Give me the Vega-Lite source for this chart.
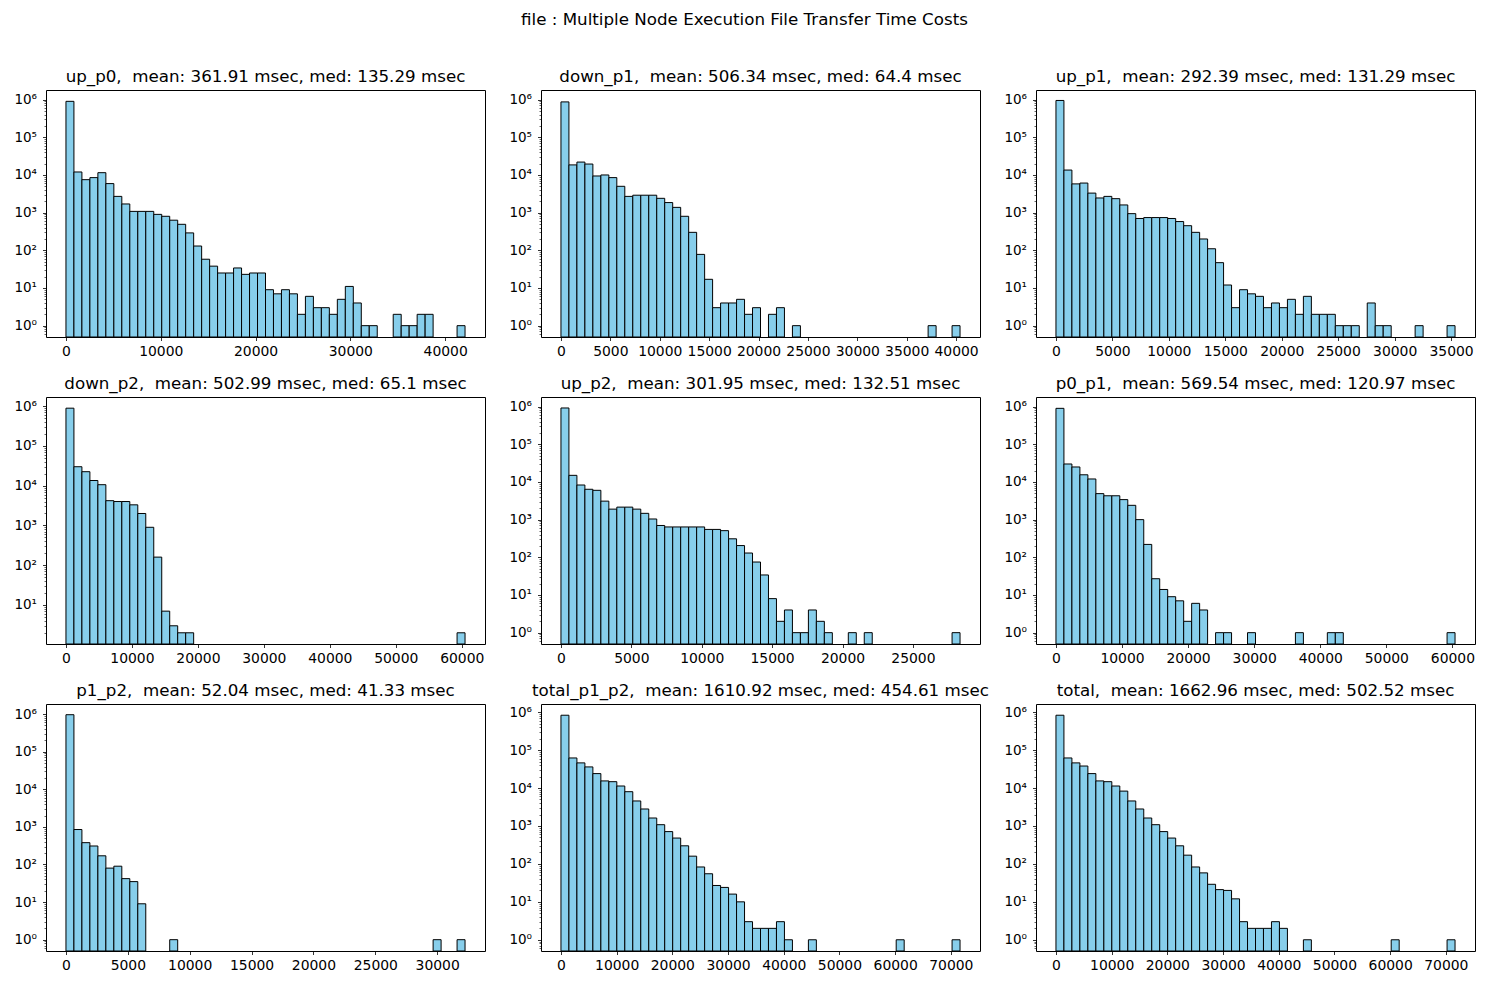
{
  "$schema": "https://vega.github.io/schema/vega-lite/v6.json",
  "background": "white",
  "padding": {"left": 13, "top": 11, "right": 10, "bottom": 5},
  "title": {"text": "file : Multiple Node Execution File Transfer Time Costs", "fontSize": 16.7, "fontWeight": "normal", "font": "DejaVu Sans", "color": "#000000", "anchor": "middle", "offset": 40},
  "bounds": "flush",
  "columns": 3,
  "spacing": {"row": 60, "column": 56},
  "datasets": {
    "hist": [
      {"panel": "up_p0", "start": 0, "end": 842, "count": 900000},
      {"panel": "up_p0", "start": 842, "end": 1684, "count": 12000},
      {"panel": "up_p0", "start": 1684, "end": 2526, "count": 7500},
      {"panel": "up_p0", "start": 2526, "end": 3368, "count": 8500},
      {"panel": "up_p0", "start": 3368, "end": 4210, "count": 11500},
      {"panel": "up_p0", "start": 4210, "end": 5052, "count": 5900},
      {"panel": "up_p0", "start": 5052, "end": 5894, "count": 2700},
      {"panel": "up_p0", "start": 5894, "end": 6736, "count": 1700},
      {"panel": "up_p0", "start": 6736, "end": 7578, "count": 1080},
      {"panel": "up_p0", "start": 7578, "end": 8420, "count": 1080},
      {"panel": "up_p0", "start": 8420, "end": 9262, "count": 1080},
      {"panel": "up_p0", "start": 9262, "end": 10104, "count": 900},
      {"panel": "up_p0", "start": 10104, "end": 10946, "count": 800},
      {"panel": "up_p0", "start": 10946, "end": 11788, "count": 630},
      {"panel": "up_p0", "start": 11788, "end": 12630, "count": 490},
      {"panel": "up_p0", "start": 12630, "end": 13472, "count": 290},
      {"panel": "up_p0", "start": 13472, "end": 14314, "count": 130},
      {"panel": "up_p0", "start": 14314, "end": 15156, "count": 58},
      {"panel": "up_p0", "start": 15156, "end": 15998, "count": 38},
      {"panel": "up_p0", "start": 15998, "end": 16840, "count": 25},
      {"panel": "up_p0", "start": 16840, "end": 17682, "count": 25},
      {"panel": "up_p0", "start": 17682, "end": 18524, "count": 34},
      {"panel": "up_p0", "start": 18524, "end": 19366, "count": 23},
      {"panel": "up_p0", "start": 19366, "end": 20208, "count": 25},
      {"panel": "up_p0", "start": 20208, "end": 21050, "count": 25},
      {"panel": "up_p0", "start": 21050, "end": 21892, "count": 9},
      {"panel": "up_p0", "start": 21892, "end": 22734, "count": 7},
      {"panel": "up_p0", "start": 22734, "end": 23576, "count": 9},
      {"panel": "up_p0", "start": 23576, "end": 24418, "count": 7},
      {"panel": "up_p0", "start": 24418, "end": 25260, "count": 2},
      {"panel": "up_p0", "start": 25260, "end": 26102, "count": 6},
      {"panel": "up_p0", "start": 26102, "end": 26944, "count": 3},
      {"panel": "up_p0", "start": 26944, "end": 27786, "count": 3},
      {"panel": "up_p0", "start": 27786, "end": 28628, "count": 2},
      {"panel": "up_p0", "start": 28628, "end": 29470, "count": 5},
      {"panel": "up_p0", "start": 29470, "end": 30312, "count": 11},
      {"panel": "up_p0", "start": 30312, "end": 31154, "count": 4},
      {"panel": "up_p0", "start": 31154, "end": 31996, "count": 1},
      {"panel": "up_p0", "start": 31996, "end": 32838, "count": 1},
      {"panel": "up_p0", "start": 34522, "end": 35364, "count": 2},
      {"panel": "up_p0", "start": 35364, "end": 36206, "count": 1},
      {"panel": "up_p0", "start": 36206, "end": 37048, "count": 1},
      {"panel": "up_p0", "start": 37048, "end": 37890, "count": 2},
      {"panel": "up_p0", "start": 37890, "end": 38732, "count": 2},
      {"panel": "up_p0", "start": 41258, "end": 42100, "count": 1},

      {"panel": "down_p1", "start": 0, "end": 808, "count": 870000},
      {"panel": "down_p1", "start": 808, "end": 1616, "count": 18500},
      {"panel": "down_p1", "start": 1616, "end": 2424, "count": 22000},
      {"panel": "down_p1", "start": 2424, "end": 3232, "count": 19500},
      {"panel": "down_p1", "start": 3232, "end": 4040, "count": 9400},
      {"panel": "down_p1", "start": 4040, "end": 4848, "count": 10000},
      {"panel": "down_p1", "start": 4848, "end": 5656, "count": 8500},
      {"panel": "down_p1", "start": 5656, "end": 6464, "count": 5000},
      {"panel": "down_p1", "start": 6464, "end": 7272, "count": 2700},
      {"panel": "down_p1", "start": 7272, "end": 8080, "count": 2900},
      {"panel": "down_p1", "start": 8080, "end": 8888, "count": 2900},
      {"panel": "down_p1", "start": 8888, "end": 9696, "count": 2900},
      {"panel": "down_p1", "start": 9696, "end": 10504, "count": 2400},
      {"panel": "down_p1", "start": 10504, "end": 11312, "count": 1850},
      {"panel": "down_p1", "start": 11312, "end": 12120, "count": 1380},
      {"panel": "down_p1", "start": 12120, "end": 12928, "count": 800},
      {"panel": "down_p1", "start": 12928, "end": 13736, "count": 300},
      {"panel": "down_p1", "start": 13736, "end": 14544, "count": 78},
      {"panel": "down_p1", "start": 14544, "end": 15352, "count": 17},
      {"panel": "down_p1", "start": 15352, "end": 16160, "count": 3},
      {"panel": "down_p1", "start": 16160, "end": 16968, "count": 4},
      {"panel": "down_p1", "start": 16968, "end": 17776, "count": 4},
      {"panel": "down_p1", "start": 17776, "end": 18584, "count": 5},
      {"panel": "down_p1", "start": 18584, "end": 19392, "count": 2},
      {"panel": "down_p1", "start": 19392, "end": 20200, "count": 3},
      {"panel": "down_p1", "start": 21008, "end": 21816, "count": 2},
      {"panel": "down_p1", "start": 21816, "end": 22624, "count": 3},
      {"panel": "down_p1", "start": 23432, "end": 24240, "count": 1},
      {"panel": "down_p1", "start": 37168, "end": 37976, "count": 1},
      {"panel": "down_p1", "start": 39592, "end": 40400, "count": 1},

      {"panel": "up_p1", "start": 0, "end": 707, "count": 950000},
      {"panel": "up_p1", "start": 707, "end": 1414, "count": 13500},
      {"panel": "up_p1", "start": 1414, "end": 2121, "count": 5800},
      {"panel": "up_p1", "start": 2121, "end": 2828, "count": 6100},
      {"panel": "up_p1", "start": 2828, "end": 3535, "count": 3300},
      {"panel": "up_p1", "start": 3535, "end": 4242, "count": 2450},
      {"panel": "up_p1", "start": 4242, "end": 4949, "count": 2700},
      {"panel": "up_p1", "start": 4949, "end": 5656, "count": 2350},
      {"panel": "up_p1", "start": 5656, "end": 6363, "count": 1600},
      {"panel": "up_p1", "start": 6363, "end": 7070, "count": 940},
      {"panel": "up_p1", "start": 7070, "end": 7777, "count": 700},
      {"panel": "up_p1", "start": 7777, "end": 8484, "count": 740},
      {"panel": "up_p1", "start": 8484, "end": 9191, "count": 740},
      {"panel": "up_p1", "start": 9191, "end": 9898, "count": 740},
      {"panel": "up_p1", "start": 9898, "end": 10605, "count": 700},
      {"panel": "up_p1", "start": 10605, "end": 11312, "count": 580},
      {"panel": "up_p1", "start": 11312, "end": 12019, "count": 450},
      {"panel": "up_p1", "start": 12019, "end": 12726, "count": 300},
      {"panel": "up_p1", "start": 12726, "end": 13433, "count": 200},
      {"panel": "up_p1", "start": 13433, "end": 14140, "count": 110},
      {"panel": "up_p1", "start": 14140, "end": 14847, "count": 47},
      {"panel": "up_p1", "start": 14847, "end": 15554, "count": 12},
      {"panel": "up_p1", "start": 15554, "end": 16261, "count": 3},
      {"panel": "up_p1", "start": 16261, "end": 16968, "count": 9},
      {"panel": "up_p1", "start": 16968, "end": 17675, "count": 7},
      {"panel": "up_p1", "start": 17675, "end": 18382, "count": 6},
      {"panel": "up_p1", "start": 18382, "end": 19089, "count": 3},
      {"panel": "up_p1", "start": 19089, "end": 19796, "count": 4},
      {"panel": "up_p1", "start": 19796, "end": 20503, "count": 3},
      {"panel": "up_p1", "start": 20503, "end": 21210, "count": 5},
      {"panel": "up_p1", "start": 21210, "end": 21917, "count": 2},
      {"panel": "up_p1", "start": 21917, "end": 22624, "count": 6},
      {"panel": "up_p1", "start": 22624, "end": 23331, "count": 2},
      {"panel": "up_p1", "start": 23331, "end": 24038, "count": 2},
      {"panel": "up_p1", "start": 24038, "end": 24745, "count": 2},
      {"panel": "up_p1", "start": 24745, "end": 25452, "count": 1},
      {"panel": "up_p1", "start": 25452, "end": 26159, "count": 1},
      {"panel": "up_p1", "start": 26159, "end": 26866, "count": 1},
      {"panel": "up_p1", "start": 27573, "end": 28280, "count": 4},
      {"panel": "up_p1", "start": 28280, "end": 28987, "count": 1},
      {"panel": "up_p1", "start": 28987, "end": 29694, "count": 1},
      {"panel": "up_p1", "start": 31815, "end": 32522, "count": 1},
      {"panel": "up_p1", "start": 34643, "end": 35350, "count": 1},

      {"panel": "down_p2", "start": 0, "end": 1210, "count": 890000},
      {"panel": "down_p2", "start": 1210, "end": 2420, "count": 30000},
      {"panel": "down_p2", "start": 2420, "end": 3630, "count": 22500},
      {"panel": "down_p2", "start": 3630, "end": 4840, "count": 13500},
      {"panel": "down_p2", "start": 4840, "end": 6050, "count": 10600},
      {"panel": "down_p2", "start": 6050, "end": 7260, "count": 4200},
      {"panel": "down_p2", "start": 7260, "end": 8470, "count": 4000},
      {"panel": "down_p2", "start": 8470, "end": 9680, "count": 4000},
      {"panel": "down_p2", "start": 9680, "end": 10890, "count": 3300},
      {"panel": "down_p2", "start": 10890, "end": 12100, "count": 2000},
      {"panel": "down_p2", "start": 12100, "end": 13310, "count": 900},
      {"panel": "down_p2", "start": 13310, "end": 14520, "count": 160},
      {"panel": "down_p2", "start": 14520, "end": 15730, "count": 7},
      {"panel": "down_p2", "start": 15730, "end": 16940, "count": 3},
      {"panel": "down_p2", "start": 16940, "end": 18150, "count": 2},
      {"panel": "down_p2", "start": 18150, "end": 19360, "count": 2},
      {"panel": "down_p2", "start": 59290, "end": 60500, "count": 2},

      {"panel": "up_p2", "start": 0, "end": 567, "count": 920000},
      {"panel": "up_p2", "start": 567, "end": 1134, "count": 15000},
      {"panel": "up_p2", "start": 1134, "end": 1701, "count": 8300},
      {"panel": "up_p2", "start": 1701, "end": 2268, "count": 6400},
      {"panel": "up_p2", "start": 2268, "end": 2835, "count": 6000},
      {"panel": "up_p2", "start": 2835, "end": 3402, "count": 3100},
      {"panel": "up_p2", "start": 3402, "end": 3969, "count": 1900},
      {"panel": "up_p2", "start": 3969, "end": 4536, "count": 2150},
      {"panel": "up_p2", "start": 4536, "end": 5103, "count": 2150},
      {"panel": "up_p2", "start": 5103, "end": 5670, "count": 1900},
      {"panel": "up_p2", "start": 5670, "end": 6237, "count": 1470},
      {"panel": "up_p2", "start": 6237, "end": 6804, "count": 1040},
      {"panel": "up_p2", "start": 6804, "end": 7371, "count": 700},
      {"panel": "up_p2", "start": 7371, "end": 7938, "count": 640},
      {"panel": "up_p2", "start": 7938, "end": 8505, "count": 640},
      {"panel": "up_p2", "start": 8505, "end": 9072, "count": 640},
      {"panel": "up_p2", "start": 9072, "end": 9639, "count": 640},
      {"panel": "up_p2", "start": 9639, "end": 10206, "count": 640},
      {"panel": "up_p2", "start": 10206, "end": 10773, "count": 550},
      {"panel": "up_p2", "start": 10773, "end": 11340, "count": 550},
      {"panel": "up_p2", "start": 11340, "end": 11907, "count": 510},
      {"panel": "up_p2", "start": 11907, "end": 12474, "count": 310},
      {"panel": "up_p2", "start": 12474, "end": 13041, "count": 205},
      {"panel": "up_p2", "start": 13041, "end": 13608, "count": 130},
      {"panel": "up_p2", "start": 13608, "end": 14175, "count": 75},
      {"panel": "up_p2", "start": 14175, "end": 14742, "count": 34},
      {"panel": "up_p2", "start": 14742, "end": 15309, "count": 8},
      {"panel": "up_p2", "start": 15309, "end": 15876, "count": 2},
      {"panel": "up_p2", "start": 15876, "end": 16443, "count": 4},
      {"panel": "up_p2", "start": 16443, "end": 17010, "count": 1},
      {"panel": "up_p2", "start": 17010, "end": 17577, "count": 1},
      {"panel": "up_p2", "start": 17577, "end": 18144, "count": 4},
      {"panel": "up_p2", "start": 18144, "end": 18711, "count": 2},
      {"panel": "up_p2", "start": 18711, "end": 19278, "count": 1},
      {"panel": "up_p2", "start": 20412, "end": 20979, "count": 1},
      {"panel": "up_p2", "start": 21546, "end": 22113, "count": 1},
      {"panel": "up_p2", "start": 27783, "end": 28350, "count": 1},

      {"panel": "p0_p1", "start": 0, "end": 1208, "count": 900000},
      {"panel": "p0_p1", "start": 1208, "end": 2416, "count": 30000},
      {"panel": "p0_p1", "start": 2416, "end": 3624, "count": 25000},
      {"panel": "p0_p1", "start": 3624, "end": 4832, "count": 15500},
      {"panel": "p0_p1", "start": 4832, "end": 6040, "count": 12000},
      {"panel": "p0_p1", "start": 6040, "end": 7248, "count": 4900},
      {"panel": "p0_p1", "start": 7248, "end": 8456, "count": 4300},
      {"panel": "p0_p1", "start": 8456, "end": 9664, "count": 4300},
      {"panel": "p0_p1", "start": 9664, "end": 10872, "count": 3400},
      {"panel": "p0_p1", "start": 10872, "end": 12080, "count": 2400},
      {"panel": "p0_p1", "start": 12080, "end": 13288, "count": 1000},
      {"panel": "p0_p1", "start": 13288, "end": 14496, "count": 220},
      {"panel": "p0_p1", "start": 14496, "end": 15704, "count": 27},
      {"panel": "p0_p1", "start": 15704, "end": 16912, "count": 14},
      {"panel": "p0_p1", "start": 16912, "end": 18120, "count": 9},
      {"panel": "p0_p1", "start": 18120, "end": 19328, "count": 7},
      {"panel": "p0_p1", "start": 19328, "end": 20536, "count": 2},
      {"panel": "p0_p1", "start": 20536, "end": 21744, "count": 6},
      {"panel": "p0_p1", "start": 21744, "end": 22952, "count": 4},
      {"panel": "p0_p1", "start": 24160, "end": 25368, "count": 1},
      {"panel": "p0_p1", "start": 25368, "end": 26576, "count": 1},
      {"panel": "p0_p1", "start": 28992, "end": 30200, "count": 1},
      {"panel": "p0_p1", "start": 36240, "end": 37448, "count": 1},
      {"panel": "p0_p1", "start": 41072, "end": 42280, "count": 1},
      {"panel": "p0_p1", "start": 42280, "end": 43488, "count": 1},
      {"panel": "p0_p1", "start": 59192, "end": 60400, "count": 1},

      {"panel": "p1_p2", "start": 0, "end": 645, "count": 960000},
      {"panel": "p1_p2", "start": 645, "end": 1290, "count": 850},
      {"panel": "p1_p2", "start": 1290, "end": 1935, "count": 380},
      {"panel": "p1_p2", "start": 1935, "end": 2580, "count": 310},
      {"panel": "p1_p2", "start": 2580, "end": 3225, "count": 170},
      {"panel": "p1_p2", "start": 3225, "end": 3870, "count": 80},
      {"panel": "p1_p2", "start": 3870, "end": 4515, "count": 90},
      {"panel": "p1_p2", "start": 4515, "end": 5160, "count": 42},
      {"panel": "p1_p2", "start": 5160, "end": 5805, "count": 35},
      {"panel": "p1_p2", "start": 5805, "end": 6450, "count": 9},
      {"panel": "p1_p2", "start": 8385, "end": 9030, "count": 1},
      {"panel": "p1_p2", "start": 29670, "end": 30315, "count": 1},
      {"panel": "p1_p2", "start": 31605, "end": 32250, "count": 1},

      {"panel": "total_p1_p2", "start": 0, "end": 1433, "count": 830000},
      {"panel": "total_p1_p2", "start": 1433, "end": 2866, "count": 62000},
      {"panel": "total_p1_p2", "start": 2866, "end": 4299, "count": 46000},
      {"panel": "total_p1_p2", "start": 4299, "end": 5732, "count": 36000},
      {"panel": "total_p1_p2", "start": 5732, "end": 7165, "count": 24000},
      {"panel": "total_p1_p2", "start": 7165, "end": 8598, "count": 15400},
      {"panel": "total_p1_p2", "start": 8598, "end": 10031, "count": 14700},
      {"panel": "total_p1_p2", "start": 10031, "end": 11464, "count": 11300},
      {"panel": "total_p1_p2", "start": 11464, "end": 12897, "count": 8000},
      {"panel": "total_p1_p2", "start": 12897, "end": 14330, "count": 4560},
      {"panel": "total_p1_p2", "start": 14330, "end": 15763, "count": 2800},
      {"panel": "total_p1_p2", "start": 15763, "end": 17196, "count": 1620},
      {"panel": "total_p1_p2", "start": 17196, "end": 18629, "count": 1080},
      {"panel": "total_p1_p2", "start": 18629, "end": 20062, "count": 710},
      {"panel": "total_p1_p2", "start": 20062, "end": 21495, "count": 480},
      {"panel": "total_p1_p2", "start": 21495, "end": 22928, "count": 300},
      {"panel": "total_p1_p2", "start": 22928, "end": 24361, "count": 160},
      {"panel": "total_p1_p2", "start": 24361, "end": 25794, "count": 83},
      {"panel": "total_p1_p2", "start": 25794, "end": 27227, "count": 55},
      {"panel": "total_p1_p2", "start": 27227, "end": 28660, "count": 27},
      {"panel": "total_p1_p2", "start": 28660, "end": 30093, "count": 24},
      {"panel": "total_p1_p2", "start": 30093, "end": 31526, "count": 16},
      {"panel": "total_p1_p2", "start": 31526, "end": 32959, "count": 10},
      {"panel": "total_p1_p2", "start": 32959, "end": 34392, "count": 3},
      {"panel": "total_p1_p2", "start": 34392, "end": 35825, "count": 2},
      {"panel": "total_p1_p2", "start": 35825, "end": 37258, "count": 2},
      {"panel": "total_p1_p2", "start": 37258, "end": 38691, "count": 2},
      {"panel": "total_p1_p2", "start": 38691, "end": 40124, "count": 3},
      {"panel": "total_p1_p2", "start": 40124, "end": 41557, "count": 1},
      {"panel": "total_p1_p2", "start": 44423, "end": 45856, "count": 1},
      {"panel": "total_p1_p2", "start": 60186, "end": 61619, "count": 1},
      {"panel": "total_p1_p2", "start": 70217, "end": 71650, "count": 1},

      {"panel": "total", "start": 0, "end": 1433, "count": 830000},
      {"panel": "total", "start": 1433, "end": 2866, "count": 62000},
      {"panel": "total", "start": 2866, "end": 4299, "count": 46000},
      {"panel": "total", "start": 4299, "end": 5732, "count": 38000},
      {"panel": "total", "start": 5732, "end": 7165, "count": 24000},
      {"panel": "total", "start": 7165, "end": 8598, "count": 15400},
      {"panel": "total", "start": 8598, "end": 10031, "count": 14700},
      {"panel": "total", "start": 10031, "end": 11464, "count": 11300},
      {"panel": "total", "start": 11464, "end": 12897, "count": 8300},
      {"panel": "total", "start": 12897, "end": 14330, "count": 4560},
      {"panel": "total", "start": 14330, "end": 15763, "count": 2800},
      {"panel": "total", "start": 15763, "end": 17196, "count": 1620},
      {"panel": "total", "start": 17196, "end": 18629, "count": 1080},
      {"panel": "total", "start": 18629, "end": 20062, "count": 710},
      {"panel": "total", "start": 20062, "end": 21495, "count": 480},
      {"panel": "total", "start": 21495, "end": 22928, "count": 300},
      {"panel": "total", "start": 22928, "end": 24361, "count": 170},
      {"panel": "total", "start": 24361, "end": 25794, "count": 83},
      {"panel": "total", "start": 25794, "end": 27227, "count": 58},
      {"panel": "total", "start": 27227, "end": 28660, "count": 29},
      {"panel": "total", "start": 28660, "end": 30093, "count": 21},
      {"panel": "total", "start": 30093, "end": 31526, "count": 20},
      {"panel": "total", "start": 31526, "end": 32959, "count": 12},
      {"panel": "total", "start": 32959, "end": 34392, "count": 3},
      {"panel": "total", "start": 34392, "end": 35825, "count": 2},
      {"panel": "total", "start": 35825, "end": 37258, "count": 2},
      {"panel": "total", "start": 37258, "end": 38691, "count": 2},
      {"panel": "total", "start": 38691, "end": 40124, "count": 3},
      {"panel": "total", "start": 40124, "end": 41557, "count": 2},
      {"panel": "total", "start": 44423, "end": 45856, "count": 1},
      {"panel": "total", "start": 60186, "end": 61619, "count": 1},
      {"panel": "total", "start": 70217, "end": 71650, "count": 1}
    ]
  },
  "data": {"name": "hist"},
  "concat": [
    {
      "title": "up_p0,\u00a0 mean: 361.91 msec, med: 135.29 msec",
      "width": 439, "height": 247,
      "transform": [{"filter": "datum.panel == 'up_p0'"}],
      "mark": {"type": "bar", "fill": "#87ceeb", "stroke": "#000000", "strokeWidth": 1, "clip": true},
      "encoding": {
        "x": {"field": "start", "type": "quantitative", "scale": {"domain": [-2105, 44205], "nice": false, "zero": false}, "axis": {"title": null, "values": [0, 10000, 20000, 30000, 40000]}},
        "x2": {"field": "end"},
        "y": {"field": "count", "type": "quantitative", "scale": {"type": "log", "domain": [0.5, 1800000], "nice": false, "clamp": true},
          "axis": {"title": null, "labelOverlap": false,
            "values": [0.6,0.7,0.8,0.9,1,2,3,4,5,6,7,8,9,10,20,30,40,50,60,70,80,90,100,200,300,400,500,600,700,800,900,1000,2000,3000,4000,5000,6000,7000,8000,9000,10000,20000,30000,40000,50000,60000,70000,80000,90000,100000,200000,300000,400000,500000,600000,700000,800000,900000,1000000],
            "labelExpr": "indexof([1,10,100,1000,10000,100000,1000000], datum.value) >= 0 ? '10' + ['\u2070','\u00b9','\u00b2','\u00b3','\u2074','\u2075','\u2076'][round(log(datum.value) / LN10)] : ''",
            "tickSize": {"condition": {"test": "indexof([1,10,100,1000,10000,100000,1000000], datum.value) >= 0", "value": 3.5}, "value": 2},
            "tickWidth": {"condition": {"test": "indexof([1,10,100,1000,10000,100000,1000000], datum.value) >= 0", "value": 0.8}, "value": 0.6}}},
        "y2": {"datum": 0.01}
      }
    },
    {
      "title": "down_p1,\u00a0 mean: 506.34 msec, med: 64.4 msec",
      "width": 439, "height": 247,
      "transform": [{"filter": "datum.panel == 'down_p1'"}],
      "mark": {"type": "bar", "fill": "#87ceeb", "stroke": "#000000", "strokeWidth": 1, "clip": true},
      "encoding": {
        "x": {"field": "start", "type": "quantitative", "scale": {"domain": [-2020, 42420], "nice": false, "zero": false}, "axis": {"title": null, "values": [0, 5000, 10000, 15000, 20000, 25000, 30000, 35000, 40000]}},
        "x2": {"field": "end"},
        "y": {"field": "count", "type": "quantitative", "scale": {"type": "log", "domain": [0.5, 1800000], "nice": false, "clamp": true},
          "axis": {"title": null, "labelOverlap": false,
            "values": [0.6,0.7,0.8,0.9,1,2,3,4,5,6,7,8,9,10,20,30,40,50,60,70,80,90,100,200,300,400,500,600,700,800,900,1000,2000,3000,4000,5000,6000,7000,8000,9000,10000,20000,30000,40000,50000,60000,70000,80000,90000,100000,200000,300000,400000,500000,600000,700000,800000,900000,1000000],
            "labelExpr": "indexof([1,10,100,1000,10000,100000,1000000], datum.value) >= 0 ? '10' + ['\u2070','\u00b9','\u00b2','\u00b3','\u2074','\u2075','\u2076'][round(log(datum.value) / LN10)] : ''",
            "tickSize": {"condition": {"test": "indexof([1,10,100,1000,10000,100000,1000000], datum.value) >= 0", "value": 3.5}, "value": 2},
            "tickWidth": {"condition": {"test": "indexof([1,10,100,1000,10000,100000,1000000], datum.value) >= 0", "value": 0.8}, "value": 0.6}}},
        "y2": {"datum": 0.01}
      }
    },
    {
      "title": "up_p1,\u00a0 mean: 292.39 msec, med: 131.29 msec",
      "width": 439, "height": 247,
      "transform": [{"filter": "datum.panel == 'up_p1'"}],
      "mark": {"type": "bar", "fill": "#87ceeb", "stroke": "#000000", "strokeWidth": 1, "clip": true},
      "encoding": {
        "x": {"field": "start", "type": "quantitative", "scale": {"domain": [-1767.5, 37117.5], "nice": false, "zero": false}, "axis": {"title": null, "values": [0, 5000, 10000, 15000, 20000, 25000, 30000, 35000]}},
        "x2": {"field": "end"},
        "y": {"field": "count", "type": "quantitative", "scale": {"type": "log", "domain": [0.5, 1800000], "nice": false, "clamp": true},
          "axis": {"title": null, "labelOverlap": false,
            "values": [0.6,0.7,0.8,0.9,1,2,3,4,5,6,7,8,9,10,20,30,40,50,60,70,80,90,100,200,300,400,500,600,700,800,900,1000,2000,3000,4000,5000,6000,7000,8000,9000,10000,20000,30000,40000,50000,60000,70000,80000,90000,100000,200000,300000,400000,500000,600000,700000,800000,900000,1000000],
            "labelExpr": "indexof([1,10,100,1000,10000,100000,1000000], datum.value) >= 0 ? '10' + ['\u2070','\u00b9','\u00b2','\u00b3','\u2074','\u2075','\u2076'][round(log(datum.value) / LN10)] : ''",
            "tickSize": {"condition": {"test": "indexof([1,10,100,1000,10000,100000,1000000], datum.value) >= 0", "value": 3.5}, "value": 2},
            "tickWidth": {"condition": {"test": "indexof([1,10,100,1000,10000,100000,1000000], datum.value) >= 0", "value": 0.8}, "value": 0.6}}},
        "y2": {"datum": 0.01}
      }
    },
    {
      "title": "down_p2,\u00a0 mean: 502.99 msec, med: 65.1 msec",
      "width": 439, "height": 247,
      "transform": [{"filter": "datum.panel == 'down_p2'"}],
      "mark": {"type": "bar", "fill": "#87ceeb", "stroke": "#000000", "strokeWidth": 1, "clip": true},
      "encoding": {
        "x": {"field": "start", "type": "quantitative", "scale": {"domain": [-3025, 63525], "nice": false, "zero": false}, "axis": {"title": null, "values": [0, 10000, 20000, 30000, 40000, 50000, 60000]}},
        "x2": {"field": "end"},
        "y": {"field": "count", "type": "quantitative", "scale": {"type": "log", "domain": [1.045, 1700000], "nice": false, "clamp": true},
          "axis": {"title": null, "labelOverlap": false,
            "values": [2,3,4,5,6,7,8,9,10,20,30,40,50,60,70,80,90,100,200,300,400,500,600,700,800,900,1000,2000,3000,4000,5000,6000,7000,8000,9000,10000,20000,30000,40000,50000,60000,70000,80000,90000,100000,200000,300000,400000,500000,600000,700000,800000,900000,1000000],
            "labelExpr": "indexof([1,10,100,1000,10000,100000,1000000], datum.value) >= 0 ? '10' + ['\u2070','\u00b9','\u00b2','\u00b3','\u2074','\u2075','\u2076'][round(log(datum.value) / LN10)] : ''",
            "tickSize": {"condition": {"test": "indexof([1,10,100,1000,10000,100000,1000000], datum.value) >= 0", "value": 3.5}, "value": 2},
            "tickWidth": {"condition": {"test": "indexof([1,10,100,1000,10000,100000,1000000], datum.value) >= 0", "value": 0.8}, "value": 0.6}}},
        "y2": {"datum": 0.01}
      }
    },
    {
      "title": "up_p2,\u00a0 mean: 301.95 msec, med: 132.51 msec",
      "width": 439, "height": 247,
      "transform": [{"filter": "datum.panel == 'up_p2'"}],
      "mark": {"type": "bar", "fill": "#87ceeb", "stroke": "#000000", "strokeWidth": 1, "clip": true},
      "encoding": {
        "x": {"field": "start", "type": "quantitative", "scale": {"domain": [-1417.5, 29767.5], "nice": false, "zero": false}, "axis": {"title": null, "values": [0, 5000, 10000, 15000, 20000, 25000]}},
        "x2": {"field": "end"},
        "y": {"field": "count", "type": "quantitative", "scale": {"type": "log", "domain": [0.5, 1800000], "nice": false, "clamp": true},
          "axis": {"title": null, "labelOverlap": false,
            "values": [0.6,0.7,0.8,0.9,1,2,3,4,5,6,7,8,9,10,20,30,40,50,60,70,80,90,100,200,300,400,500,600,700,800,900,1000,2000,3000,4000,5000,6000,7000,8000,9000,10000,20000,30000,40000,50000,60000,70000,80000,90000,100000,200000,300000,400000,500000,600000,700000,800000,900000,1000000],
            "labelExpr": "indexof([1,10,100,1000,10000,100000,1000000], datum.value) >= 0 ? '10' + ['\u2070','\u00b9','\u00b2','\u00b3','\u2074','\u2075','\u2076'][round(log(datum.value) / LN10)] : ''",
            "tickSize": {"condition": {"test": "indexof([1,10,100,1000,10000,100000,1000000], datum.value) >= 0", "value": 3.5}, "value": 2},
            "tickWidth": {"condition": {"test": "indexof([1,10,100,1000,10000,100000,1000000], datum.value) >= 0", "value": 0.8}, "value": 0.6}}},
        "y2": {"datum": 0.01}
      }
    },
    {
      "title": "p0_p1,\u00a0 mean: 569.54 msec, med: 120.97 msec",
      "width": 439, "height": 247,
      "transform": [{"filter": "datum.panel == 'p0_p1'"}],
      "mark": {"type": "bar", "fill": "#87ceeb", "stroke": "#000000", "strokeWidth": 1, "clip": true},
      "encoding": {
        "x": {"field": "start", "type": "quantitative", "scale": {"domain": [-3020, 63420], "nice": false, "zero": false}, "axis": {"title": null, "values": [0, 10000, 20000, 30000, 40000, 50000, 60000]}},
        "x2": {"field": "end"},
        "y": {"field": "count", "type": "quantitative", "scale": {"type": "log", "domain": [0.5, 1800000], "nice": false, "clamp": true},
          "axis": {"title": null, "labelOverlap": false,
            "values": [0.6,0.7,0.8,0.9,1,2,3,4,5,6,7,8,9,10,20,30,40,50,60,70,80,90,100,200,300,400,500,600,700,800,900,1000,2000,3000,4000,5000,6000,7000,8000,9000,10000,20000,30000,40000,50000,60000,70000,80000,90000,100000,200000,300000,400000,500000,600000,700000,800000,900000,1000000],
            "labelExpr": "indexof([1,10,100,1000,10000,100000,1000000], datum.value) >= 0 ? '10' + ['\u2070','\u00b9','\u00b2','\u00b3','\u2074','\u2075','\u2076'][round(log(datum.value) / LN10)] : ''",
            "tickSize": {"condition": {"test": "indexof([1,10,100,1000,10000,100000,1000000], datum.value) >= 0", "value": 3.5}, "value": 2},
            "tickWidth": {"condition": {"test": "indexof([1,10,100,1000,10000,100000,1000000], datum.value) >= 0", "value": 0.8}, "value": 0.6}}},
        "y2": {"datum": 0.01}
      }
    },
    {
      "title": "p1_p2,\u00a0 mean: 52.04 msec, med: 41.33 msec",
      "width": 439, "height": 247,
      "transform": [{"filter": "datum.panel == 'p1_p2'"}],
      "mark": {"type": "bar", "fill": "#87ceeb", "stroke": "#000000", "strokeWidth": 1, "clip": true},
      "encoding": {
        "x": {"field": "start", "type": "quantitative", "scale": {"domain": [-1612.5, 33862.5], "nice": false, "zero": false}, "axis": {"title": null, "values": [0, 5000, 10000, 15000, 20000, 25000, 30000]}},
        "x2": {"field": "end"},
        "y": {"field": "count", "type": "quantitative", "scale": {"type": "log", "domain": [0.5, 1850000], "nice": false, "clamp": true},
          "axis": {"title": null, "labelOverlap": false,
            "values": [0.6,0.7,0.8,0.9,1,2,3,4,5,6,7,8,9,10,20,30,40,50,60,70,80,90,100,200,300,400,500,600,700,800,900,1000,2000,3000,4000,5000,6000,7000,8000,9000,10000,20000,30000,40000,50000,60000,70000,80000,90000,100000,200000,300000,400000,500000,600000,700000,800000,900000,1000000],
            "labelExpr": "indexof([1,10,100,1000,10000,100000,1000000], datum.value) >= 0 ? '10' + ['\u2070','\u00b9','\u00b2','\u00b3','\u2074','\u2075','\u2076'][round(log(datum.value) / LN10)] : ''",
            "tickSize": {"condition": {"test": "indexof([1,10,100,1000,10000,100000,1000000], datum.value) >= 0", "value": 3.5}, "value": 2},
            "tickWidth": {"condition": {"test": "indexof([1,10,100,1000,10000,100000,1000000], datum.value) >= 0", "value": 0.8}, "value": 0.6}}},
        "y2": {"datum": 0.01}
      }
    },
    {
      "title": "total_p1_p2,\u00a0 mean: 1610.92 msec, med: 454.61 msec",
      "width": 439, "height": 247,
      "transform": [{"filter": "datum.panel == 'total_p1_p2'"}],
      "mark": {"type": "bar", "fill": "#87ceeb", "stroke": "#000000", "strokeWidth": 1, "clip": true},
      "encoding": {
        "x": {"field": "start", "type": "quantitative", "scale": {"domain": [-3582.5, 75232.5], "nice": false, "zero": false}, "axis": {"title": null, "values": [0, 10000, 20000, 30000, 40000, 50000, 60000, 70000]}},
        "x2": {"field": "end"},
        "y": {"field": "count", "type": "quantitative", "scale": {"type": "log", "domain": [0.506, 1640000], "nice": false, "clamp": true},
          "axis": {"title": null, "labelOverlap": false,
            "values": [0.6,0.7,0.8,0.9,1,2,3,4,5,6,7,8,9,10,20,30,40,50,60,70,80,90,100,200,300,400,500,600,700,800,900,1000,2000,3000,4000,5000,6000,7000,8000,9000,10000,20000,30000,40000,50000,60000,70000,80000,90000,100000,200000,300000,400000,500000,600000,700000,800000,900000,1000000],
            "labelExpr": "indexof([1,10,100,1000,10000,100000,1000000], datum.value) >= 0 ? '10' + ['\u2070','\u00b9','\u00b2','\u00b3','\u2074','\u2075','\u2076'][round(log(datum.value) / LN10)] : ''",
            "tickSize": {"condition": {"test": "indexof([1,10,100,1000,10000,100000,1000000], datum.value) >= 0", "value": 3.5}, "value": 2},
            "tickWidth": {"condition": {"test": "indexof([1,10,100,1000,10000,100000,1000000], datum.value) >= 0", "value": 0.8}, "value": 0.6}}},
        "y2": {"datum": 0.01}
      }
    },
    {
      "title": "total,\u00a0 mean: 1662.96 msec, med: 502.52 msec",
      "width": 439, "height": 247,
      "transform": [{"filter": "datum.panel == 'total'"}],
      "mark": {"type": "bar", "fill": "#87ceeb", "stroke": "#000000", "strokeWidth": 1, "clip": true},
      "encoding": {
        "x": {"field": "start", "type": "quantitative", "scale": {"domain": [-3582.5, 75232.5], "nice": false, "zero": false}, "axis": {"title": null, "values": [0, 10000, 20000, 30000, 40000, 50000, 60000, 70000]}},
        "x2": {"field": "end"},
        "y": {"field": "count", "type": "quantitative", "scale": {"type": "log", "domain": [0.506, 1640000], "nice": false, "clamp": true},
          "axis": {"title": null, "labelOverlap": false,
            "values": [0.6,0.7,0.8,0.9,1,2,3,4,5,6,7,8,9,10,20,30,40,50,60,70,80,90,100,200,300,400,500,600,700,800,900,1000,2000,3000,4000,5000,6000,7000,8000,9000,10000,20000,30000,40000,50000,60000,70000,80000,90000,100000,200000,300000,400000,500000,600000,700000,800000,900000,1000000],
            "labelExpr": "indexof([1,10,100,1000,10000,100000,1000000], datum.value) >= 0 ? '10' + ['\u2070','\u00b9','\u00b2','\u00b3','\u2074','\u2075','\u2076'][round(log(datum.value) / LN10)] : ''",
            "tickSize": {"condition": {"test": "indexof([1,10,100,1000,10000,100000,1000000], datum.value) >= 0", "value": 3.5}, "value": 2},
            "tickWidth": {"condition": {"test": "indexof([1,10,100,1000,10000,100000,1000000], datum.value) >= 0", "value": 0.8}, "value": 0.6}}},
        "y2": {"datum": 0.01}
      }
    }
  ],
  "config": {
    "font": "DejaVu Sans",
    "view": {"stroke": "#000000", "strokeWidth": 1},
    "axis": {"grid": false, "domain": false, "tickColor": "#000000", "tickSize": 3.5, "tickWidth": 0.8, "labelColor": "#000000", "labelFont": "DejaVu Sans", "labelPadding": 3.5, "labelFlush": false},
    "axisX": {"format": "d", "labelFontSize": 13.9},
    "axisY": {"labelFontSize": 13.5, "labelPadding": 6},
    "title": {"fontSize": 16.7, "fontWeight": "normal", "font": "DejaVu Sans", "color": "#000000", "offset": 4.5}
  }
}
